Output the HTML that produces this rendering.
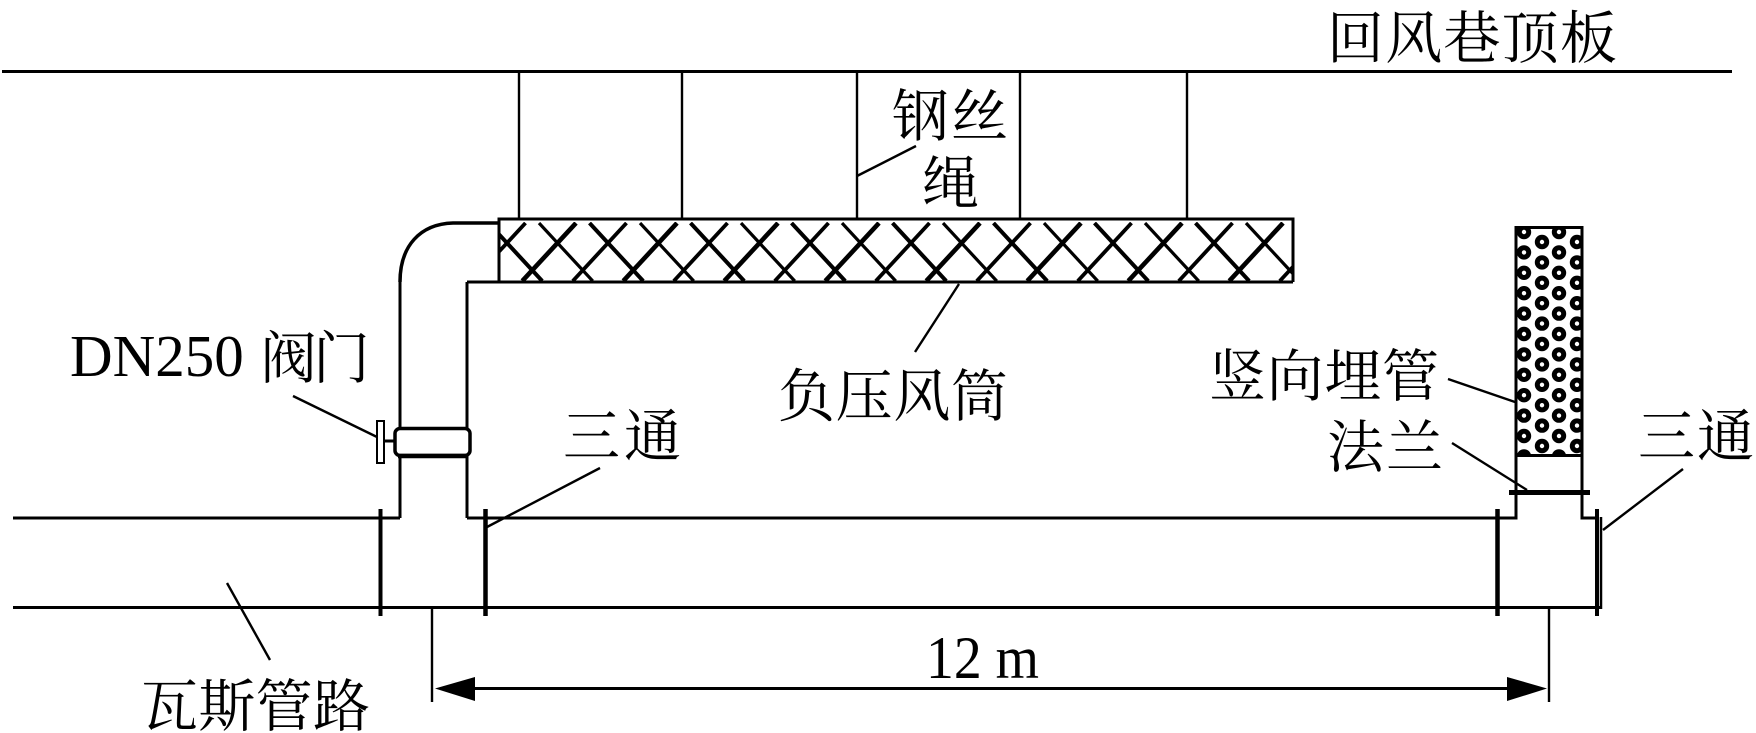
<!DOCTYPE html>
<html><head><meta charset="utf-8"><style>
html,body{margin:0;padding:0;background:#fff}
svg{display:block}
text{font-family:"Liberation Serif","Noto Serif CJK SC",serif;font-size:57px;fill:#000}
.l{stroke:#000;stroke-width:3;fill:none}
.t{stroke:#000;stroke-width:2.4;fill:none}
.f{stroke:#000;stroke-width:5;fill:none}
</style></head><body>
<svg width="1756" height="733" viewBox="0 0 1756 733" xmlns="http://www.w3.org/2000/svg">
<defs>
<clipPath id="dc"><rect x="499" y="222" width="794" height="59"/></clipPath>
<clipPath id="pc"><rect x="1516" y="228" width="66" height="227"/></clipPath>
<g id="x">
<line x1="488.5" y1="223" x2="542.2" y2="281" stroke="#000" stroke-width="4"/>
<line x1="525.5" y1="223" x2="471.8" y2="281" stroke="#000" stroke-width="3.8"/>
<line x1="539" y1="223" x2="592.7" y2="281" stroke="#000" stroke-width="3.2"/>
<line x1="576" y1="223" x2="522.3" y2="281" stroke="#000" stroke-width="4.6"/>
</g>
<g id="cA">
<circle cx="0" cy="0" r="4.7" fill="#fff" stroke="#000" stroke-width="5"/>
</g>
<g id="col">
<use href="#cA" y="0"/><use href="#cA" y="20.4"/><use href="#cA" y="40.8"/><use href="#cA" y="61.2"/><use href="#cA" y="81.6"/><use href="#cA" y="102"/><use href="#cA" y="122.4"/><use href="#cA" y="142.8"/><use href="#cA" y="163.2"/><use href="#cA" y="183.6"/><use href="#cA" y="204"/><use href="#cA" y="224.4"/>
</g>
</defs>

<!-- roof -->
<line x1="2" y1="71.5" x2="1732" y2="71.5" class="l"/>
<!-- wires -->
<line x1="519" y1="72" x2="519" y2="219" class="t"/>
<line x1="682" y1="72" x2="682" y2="219" class="t"/>
<line x1="857" y1="72" x2="857" y2="219" class="t"/>
<line x1="1020" y1="72" x2="1020" y2="219" class="t"/>
<line x1="1187" y1="72" x2="1187" y2="219" class="t"/>

<!-- duct hatch -->
<g clip-path="url(#dc)">
<use href="#x"/><use href="#x" x="101"/><use href="#x" x="202"/><use href="#x" x="303"/><use href="#x" x="404"/><use href="#x" x="505"/><use href="#x" x="606"/><use href="#x" x="707"/><use href="#x" x="808"/>
</g>
<path d="M499 282V219H1293V282" class="l"/>
<line x1="467" y1="282" x2="1293" y2="282" class="l"/>
<!-- elbow -->
<path d="M400 282C400 246 420 224 453 223L499 223" fill="none" stroke="#000" stroke-width="3.5"/>
<line x1="400" y1="280" x2="400" y2="518" class="l"/>
<line x1="467" y1="282" x2="467" y2="518" class="l"/>

<!-- valve -->
<rect x="395" y="428.500" width="75" height="27" rx="5" fill="#fff" stroke="#000" stroke-width="3.500"/>
<line x1="398" y1="456" x2="467" y2="456" stroke="#000" stroke-width="4.500"/>
<rect x="377" y="421" width="7" height="42" fill="#fff" stroke="#000" stroke-width="2"/>
<line x1="384" y1="441" x2="394" y2="441" class="l"/>

<!-- main pipe -->
<path d="M13 518H400M467 518H1516V492M1516 518" class="l"/>
<path d="M1582 492V518H1597" class="l"/>
<line x1="13" y1="607.500" x2="1600" y2="607.500" class="l"/>
<line x1="1601" y1="517" x2="1601" y2="609" stroke="#000" stroke-width="2.500"/>
<line x1="380.500" y1="509" x2="380.500" y2="616" stroke="#000" stroke-width="4"/>
<line x1="485.500" y1="509" x2="485.500" y2="616" stroke="#000" stroke-width="4.500"/>
<line x1="1497.500" y1="509" x2="1497.500" y2="616" stroke="#000" stroke-width="4.500"/>
<line x1="1597" y1="509" x2="1597" y2="616" stroke="#000" stroke-width="4"/>

<!-- vertical buried pipe -->
<g clip-path="url(#pc)">
<use href="#col" x="1524" y="232"/>
<use href="#col" x="1542" y="242"/>
<use href="#col" x="1559" y="232"/>
<use href="#col" x="1577" y="242"/>
</g>
<rect x="1516" y="227.500" width="66" height="228" fill="none" stroke="#000" stroke-width="3"/>
<line x1="1516" y1="455" x2="1516" y2="492" class="l"/>
<line x1="1582" y1="455" x2="1582" y2="492" class="l"/>
<line x1="1509" y1="492.500" x2="1590" y2="492.500" class="f"/>

<!-- dimension -->
<line x1="432" y1="608" x2="432" y2="702" class="t"/>
<line x1="1549" y1="608" x2="1549" y2="702" class="t"/>
<line x1="470" y1="688.500" x2="1512" y2="688.500" class="l"/>
<polygon points="435,688.500 475,677 475,701" fill="#000"/>
<polygon points="1547,688.500 1507,677 1507,701" fill="#000"/>

<!-- leaders -->
<line x1="916" y1="146" x2="857" y2="176" class="t"/>
<line x1="959" y1="284" x2="915" y2="352" class="t"/>
<line x1="293" y1="396" x2="377" y2="437" class="t"/>
<line x1="600" y1="468" x2="487" y2="527" class="t"/>
<line x1="1448" y1="379" x2="1515" y2="402" class="t"/>
<line x1="1452" y1="443" x2="1527" y2="490" class="t"/>
<line x1="1683" y1="469" x2="1603" y2="530" class="t"/>
<line x1="227" y1="583" x2="270" y2="660" class="t"/>

<!-- labels -->
<text x="1327" y="58" textLength="290" lengthAdjust="spacing">回风巷顶板</text>
<text x="892" y="136" textLength="116" lengthAdjust="spacing">钢丝</text>
<text x="922" y="203">绳</text>
<text x="70" y="376" style="font-size:59px">DN250</text>
<text x="260" y="378" textLength="110" lengthAdjust="spacing">阀门</text>
<text x="778" y="416" textLength="230" lengthAdjust="spacing">负压风筒</text>
<text x="563" y="456" textLength="118" lengthAdjust="spacing">三通</text>
<text x="1209" y="396" textLength="230" lengthAdjust="spacing">竖向埋管</text>
<text x="1327" y="467" textLength="116" lengthAdjust="spacing">法兰</text>
<text x="1638" y="456" textLength="116" lengthAdjust="spacing">三通</text>
<text x="141" y="726" textLength="229" lengthAdjust="spacing">瓦斯管路</text>
<text x="926" y="678" textLength="113" lengthAdjust="spacingAndGlyphs" style="font-size:60px">12 m</text>
</svg>
</body></html>
